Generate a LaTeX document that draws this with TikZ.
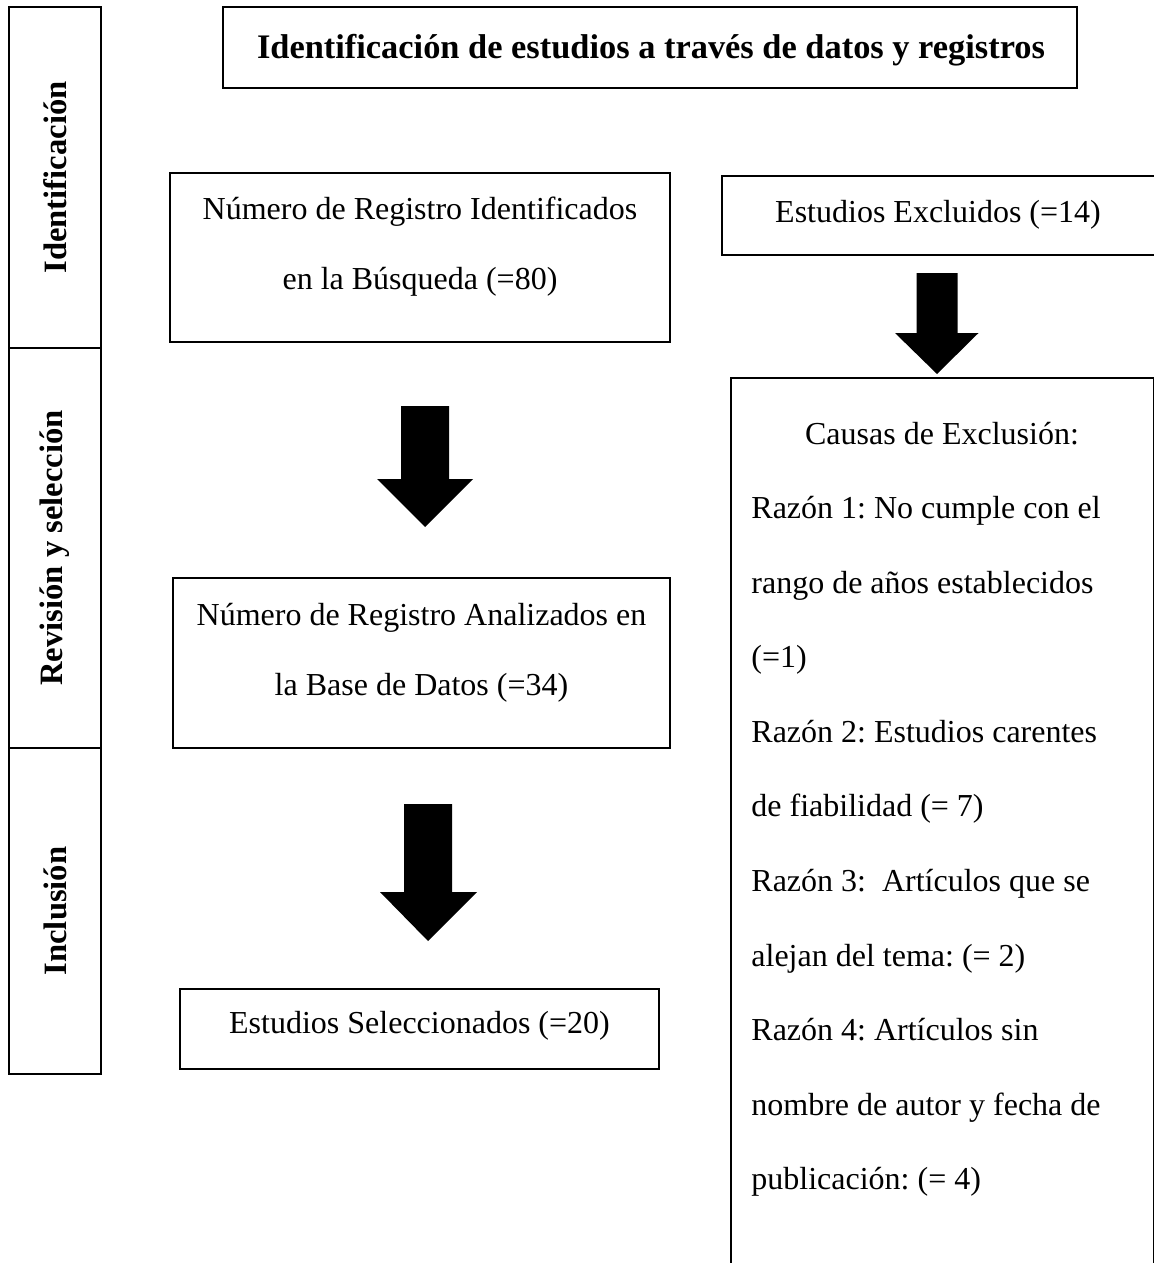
\documentclass[tikz,border=0pt]{standalone}
\usepackage{fontspec}
\setmainfont{Liberation Serif}
\frenchspacing
\begin{document}
\begin{tikzpicture}[x=0.5pt,y=-0.5pt,
  box/.style={draw=black,line width=1.3pt,inner sep=0pt,outer sep=0pt},
  txt/.style={inner sep=0pt,align=center,font=\fontsize{16}{35}\selectfont},
  ctxt/.style={inner sep=0pt,align=left,font=\fontsize{16}{37.3}\selectfont},
  sec/.style={inner sep=0pt,rotate=90,font=\fontsize{16.3}{19}\selectfont\bfseries},
  blockarrow/.style={fill=black,draw=none}]
\useasboundingbox (0,0) rectangle (1154,1263);
\clip (0,0) rectangle (1154,1263);
% left column
\node[box,minimum width=46pt,minimum height=170.5pt] (s1) at (55,177.5) {};
\node[box,minimum width=46pt,minimum height=200pt] (s2) at (55,548) {};
\node[box,minimum width=46pt,minimum height=163pt] (s3) at (55,911) {};
\node[sec] (l1) at (s1.center) {Identificación};
\node[sec] (l2) at (s2.center) {Revisión y selección};
\node[sec] (l3) at (s3.center) {Inclusión};
% title
\node[box,minimum width=427pt,minimum height=40.5pt] (title) at (650,47.5) {};
\node[txt,font=\fontsize{17.2}{35}\selectfont\bfseries] (tt) at (651,50) {Identificación de estudios a través de datos y registros};
% box 1
\node[box,minimum width=250pt,minimum height=84.5pt] (b1) at (420,257.5) {};
\node[txt] (t1) at (420,247) {Número de Registro Identificados\\en la Búsqueda (=80)};
% box 2
\node[box,minimum width=248.5pt,minimum height=85pt] (b2) at (421.5,663) {};
\node[txt] (t2) at (421.5,653) {Número de Registro Analizados en\\la Base de Datos (=34)};
% box 3
\node[box,minimum width=239.5pt,minimum height=40pt] (b3) at (419.5,1029) {};
\node[txt] (t3) at (419.5,1026) {Estudios Seleccionados (=20)};
% excluded
\node[box,minimum width=224pt,minimum height=39.5pt] (ex) at (946,215.5) {};
\node[txt] (tex) at (938,215) {Estudios Excluidos (=14)};
% causes
\node[box,minimum width=211.5pt,minimum height=450pt] (ca) at (942.5,828) {};
\node[txt] (cat) at (942,434) {Causas de Exclusión:};
\node[ctxt,anchor=west] (cal) at (751,846.5) {Razón 1: No cumple con el\\rango de años establecidos\\(=1)\\Razón 2: Estudios carentes\\de fiabilidad (= 7)\\Razón 3:\ \ Artículos que se\\alejan del tema: (= 2)\\Razón 4: Artículos sin\\nombre de autor y fecha de\\publicación: (= 4)};
% block arrows
\coordinate (a1) at (425,406);
\coordinate (a2) at (428,804);
\coordinate (a3) at (937,273);
\fill[blockarrow] (a1) ++(-24,0) -- ++(48,0) -- ++(0,73) -- ++(24,0) -- (425,527) -- (377,479) -- ++(24,0) -- cycle;
\fill[blockarrow] (a2) ++(-24,0) -- ++(48,0) -- ++(0,88) -- ++(25,0) -- (428,941) -- (380,892) -- ++(24,0) -- cycle;
\fill[blockarrow] (a3) ++(-20.5,0) -- ++(41,0) -- ++(0,60) -- ++(21,0) -- (937,374) -- (895,333) -- ++(21.5,0) -- cycle;
\end{tikzpicture}
\end{document}
